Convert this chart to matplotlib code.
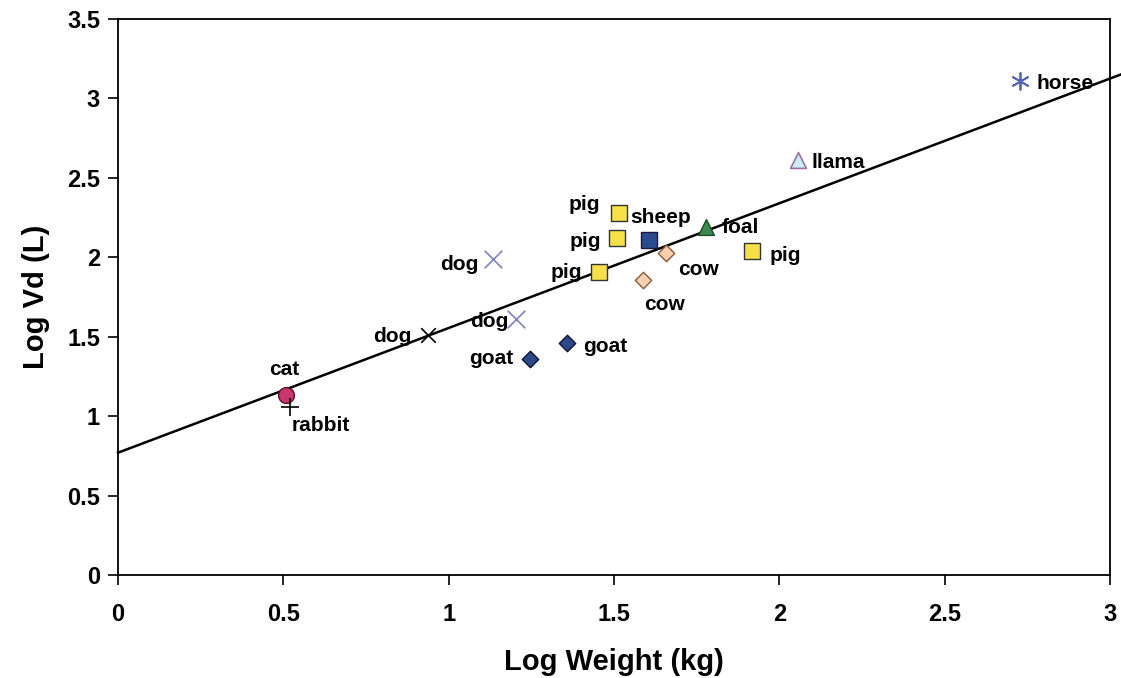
import numpy as np
import matplotlib.pyplot as plt

plt.rcParams['font.family'] = ['Liberation Sans', 'DejaVu Sans']
plt.rcParams['font.weight'] = 'bold'

# species data (log weight kg, log Vd L)
names = ['horse', 'llama', 'foal', 'pig', 'pig', 'pig', 'sheep', 'pig', 'cow', 'cow',
         'dog', 'dog', 'dog', 'goat', 'goat', 'cat', 'rabbit']
log_w = [2.727, 2.056, 1.778, 1.917, 1.515, 1.509, 1.606, 1.454, 1.657, 1.588,
         1.134, 1.204, 0.937, 1.358, 1.246, 0.508, 0.520]
log_vd = [3.11, 2.61, 2.19, 2.04, 2.28, 2.12, 2.11, 1.91, 2.03, 1.86,
          1.99, 1.61, 1.51, 1.46, 1.36, 1.13, 1.06]

# regression line
fit_intercept = 0.77
fit_slope = 0.785

# marker style per point
styles = {
    'horse': dict(marker=(6, 2, 0), s=150, c='#5565b5', linewidths=1.3),
    'llama': dict(marker='^', s=130, c='#c8eef8', edgecolors='#a070a0', linewidths=1.2),
    'foal': dict(marker='^', s=130, c='#3a8a50', edgecolors='#1e4a2a', linewidths=1.0),
    'pig': dict(marker='s', s=140, c='#f5e04a', edgecolors='#333333', linewidths=1.0),
    'sheep': dict(marker='s', s=140, c='#2a4a90', edgecolors='#1a1a40', linewidths=1.0),
    'cow': dict(marker='D', s=70, c='#f8d0b0', edgecolors='#8a5a3a', linewidths=1.0),
    'dog': dict(marker='x', s=160, c='#7f80c0', linewidths=1.2),
    'dog_black': dict(marker='x', s=110, c='black', linewidths=1.2),
    'goat': dict(marker='D', s=70, c='#2a4a8a', edgecolors='#111133', linewidths=1.0),
    'cat': dict(marker='o', s=130, c='#c83870', edgecolors='#5a1030', linewidths=1.0),
    'rabbit': dict(marker='+', s=160, c='black', linewidths=1.2),
}

# label offsets in pixels (dx, dy, ha)
label_pos = [(17, -3, 'left'), (14, -2, 'left'), (16, 0, 'left'), (18, -5, 'left'),
             (-19, 8, 'right'), (-16, -3, 'right'), (-19, 22, 'left'), (-17, -1, 'right'),
             (12, -17, 'left'), (1, -25, 'left'), (-15, -6, 'right'), (-8, -2, 'right'),
             (-16, -1, 'right'), (16, -3, 'left'), (-17, 0, 'right'), (-2, 26, 'center'),
             (2, -19, 'left')]

fig = plt.figure(figsize=(11.21, 6.78), dpi=100)
ax = fig.add_axes([0.1053, 0.1519, 0.8849, 0.8201])

xl = np.array([0, 3.033])
ax.plot(xl, fit_intercept + fit_slope * xl, color='black', lw=1.8, clip_on=False, zorder=2)

for i, (n, x, y) in enumerate(zip(names, log_w, log_vd)):
    key = n
    if n == 'dog' and i == 12:
        key = 'dog_black'
    ax.scatter([x], [y], zorder=3, **styles[key])
    dx, dy, ha = label_pos[i]
    ax.annotate(n, (x, y), xytext=(dx, dy), textcoords='offset pixels',
                ha=ha, va='center', fontsize=15, fontweight='bold', zorder=4)

ax.set_xlim(0, 3)
ax.set_ylim(0, 3.5)
ax.set_xticks(np.arange(0, 3.01, 0.5))
ax.set_yticks(np.arange(0, 3.51, 0.5))
ax.set_xticklabels(['0', '0.5', '1', '1.5', '2', '2.5', '3'])
ax.set_yticklabels(['0', '0.5', '1', '1.5', '2', '2.5', '3', '3.5'])
ax.tick_params(direction='out', length=7, width=1.2, labelsize=17, pad=6)
ax.tick_params(axis='x', pad=13)
for lab in ax.get_xticklabels() + ax.get_yticklabels():
    lab.set_fontweight('bold')
for sp in ax.spines.values():
    sp.set_linewidth(1.3)

ax.set_xlabel('Log Weight (kg)', fontsize=21, fontweight='bold', labelpad=16)
ax.set_ylabel('Log Vd (L)', fontsize=21, fontweight='bold', labelpad=12)

fig.savefig('out.png', dpi=100)
